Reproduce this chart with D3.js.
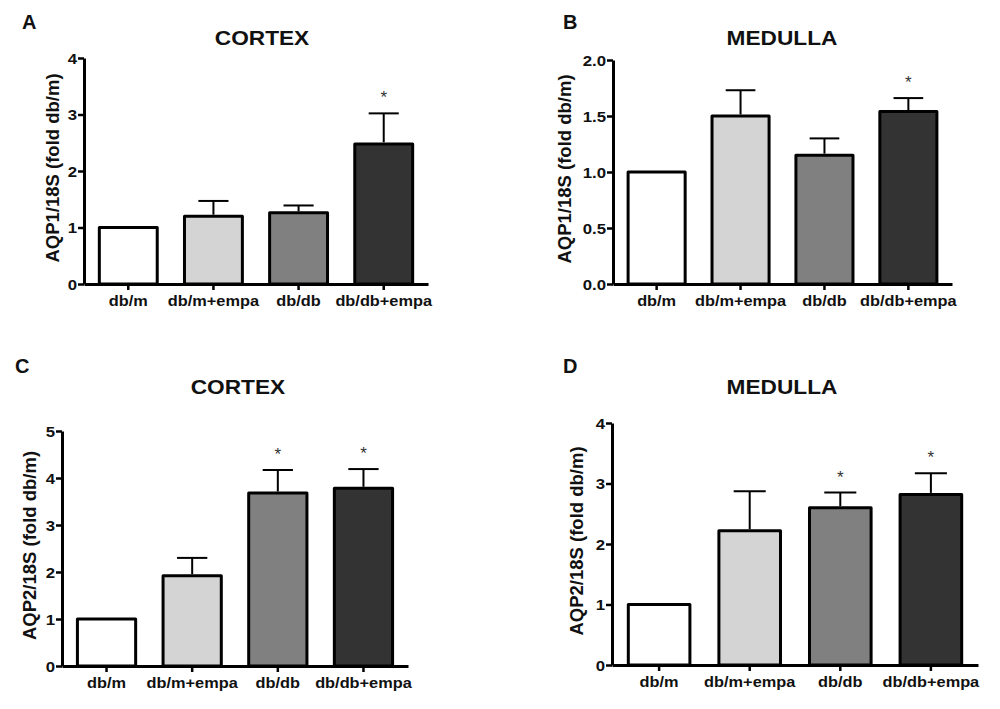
<!DOCTYPE html>
<html lang="en">
<head>
    <meta charset="UTF-8">
    <title>AQP1 / AQP2 expression</title>
    <script src="https://d3js.org/d3.v7.min.js"></script>
    <style>
        body {
            margin: 0;
            padding: 0;
            background-color: white;
        }
        svg text {
            font-family: 'Liberation Sans', Arial, sans-serif;
            fill: #111;
        }
    </style>
</head>
<body>
    <svg id="chart" width="1000" height="709"></svg>

    <script>
        // groups and values (mean, SEM, significance)
        const groups = ["db/m", "db/m+empa", "db/db", "db/db+empa"];
        const barFills = ["#ffffff", "#d4d4d4", "#808080", "#333333"];

        const aqp1CortexMean = [1.0, 1.2, 1.26, 2.48];
        const aqp1CortexSem  = [0, 0.27, 0.13, 0.54];
        const aqp1CortexSig  = [false, false, false, true];

        const aqp1MedullaMean = [1.0, 1.5, 1.15, 1.54];
        const aqp1MedullaSem  = [0, 0.23, 0.15, 0.12];
        const aqp1MedullaSig  = [false, false, false, true];

        const aqp2CortexMean = [1.0, 1.92, 3.68, 3.78];
        const aqp2CortexSem  = [0, 0.38, 0.49, 0.41];
        const aqp2CortexSig  = [false, false, true, true];

        const aqp2MedullaMean = [1.0, 2.22, 2.6, 2.82];
        const aqp2MedullaSem  = [0, 0.65, 0.25, 0.35];
        const aqp2MedullaSig  = [false, false, true, true];

        const ticksA = [0, 1, 2, 3, 4];
        const ticksB = [0, 0.5, 1.0, 1.5, 2.0];
        const ticksC = [0, 1, 2, 3, 4, 5];
        const ticksD = [0, 1, 2, 3, 4];

        const panels = [
            { letter: "A", title: "CORTEX", yLabel: "AQP1/18S (fold db/m)",
              mean: aqp1CortexMean, sem: aqp1CortexSem, sig: aqp1CortexSig,
              ticks: ticksA, fmt: d3.format("d"),
              left: 84, right: 428, top: 58, bottom: 284,
              letterX: 22, letterY: 29, titleX: 262, titleY: 45, yLabelX: 53 },
            { letter: "B", title: "MEDULLA", yLabel: "AQP1/18S (fold db/m)",
              mean: aqp1MedullaMean, sem: aqp1MedullaSem, sig: aqp1MedullaSig,
              ticks: ticksB, fmt: d3.format(".1f"),
              left: 613, right: 952, top: 60, bottom: 284,
              letterX: 563, letterY: 29, titleX: 782, titleY: 45, yLabelX: 565 },
            { letter: "C", title: "CORTEX", yLabel: "AQP2/18S (fold db/m)",
              mean: aqp2CortexMean, sem: aqp2CortexSem, sig: aqp2CortexSig,
              ticks: ticksC, fmt: d3.format("d"),
              left: 62, right: 408, top: 431, bottom: 666,
              letterX: 15, letterY: 373, titleX: 238, titleY: 394, yLabelX: 30 },
            { letter: "D", title: "MEDULLA", yLabel: "AQP2/18S (fold db/m)",
              mean: aqp2MedullaMean, sem: aqp2MedullaSem, sig: aqp2MedullaSig,
              ticks: ticksD, fmt: d3.format("d"),
              left: 612, right: 978, top: 423, bottom: 665,
              letterX: 563, letterY: 373, titleX: 782, titleY: 394, yLabelX: 577 }
        ];

        const svg = d3.select("#chart");

        // the original type is a little wide, stretch text horizontally around its anchor
        function widen(sel, sx) {
            sel.each(function() {
                const t = d3.select(this);
                const x = +t.attr("x") || 0;
                t.attr("transform", `translate(${x},0) scale(${sx},1) translate(${-x},0)`);
            });
        }

        function drawPanel(p) {
            const g = svg.append("g");
            const yMax = p.ticks[p.ticks.length - 1];

            const x = d3.scaleBand()
                .domain(groups)
                .range([p.left, p.right])
                .paddingInner(0.32)
                .paddingOuter(0.18);
            const y = d3.scaleLinear().domain([0, yMax]).range([p.bottom, p.top]);

            const rows = groups.map((name, i) => ({
                name: name, mean: p.mean[i], sem: p.sem[i], sig: p.sig[i], fill: barFills[i]
            }));

            // bars
            g.selectAll("rect.bar")
                .data(rows)
                .join("rect")
                .attr("class", "bar")
                .attr("x", d => x(d.name))
                .attr("width", x.bandwidth())
                .attr("y", d => y(d.mean))
                .attr("height", d => y(0) - y(d.mean))
                .attr("fill", d => d.fill)
                .attr("stroke", "#000")
                .attr("stroke-width", 3)
                .attr("stroke-linejoin", "round");

            // upper error bars
            const capHalf = x.bandwidth() * 0.26;
            const errRows = rows.filter(d => d.sem > 0);
            g.selectAll("line.err")
                .data(errRows)
                .join("line")
                .attr("class", "err")
                .attr("x1", d => x(d.name) + x.bandwidth() / 2)
                .attr("x2", d => x(d.name) + x.bandwidth() / 2)
                .attr("y1", d => y(d.mean) - 1.5)
                .attr("y2", d => y(d.mean + d.sem))
                .attr("stroke", "#000")
                .attr("stroke-width", 2);
            g.selectAll("line.cap")
                .data(errRows)
                .join("line")
                .attr("class", "cap")
                .attr("x1", d => x(d.name) + x.bandwidth() / 2 - capHalf)
                .attr("x2", d => x(d.name) + x.bandwidth() / 2 + capHalf)
                .attr("y1", d => y(d.mean + d.sem))
                .attr("y2", d => y(d.mean + d.sem))
                .attr("stroke", "#000")
                .attr("stroke-width", 2);

            // significance stars
            g.selectAll("text.star")
                .data(rows.filter(d => d.sig))
                .join("text")
                .attr("class", "star")
                .attr("x", d => x(d.name) + x.bandwidth() / 2)
                .attr("y", d => y(d.mean + d.sem) - 10)
                .attr("text-anchor", "middle")
                .style("font-size", "17px")
                .style("fill", "#333")
                .text("*");

            // y axis
            const yAxis = g.append("g")
                .attr("transform", `translate(${p.left},0)`)
                .call(d3.axisLeft(y).tickValues(p.ticks).tickFormat(p.fmt).tickSize(6).tickPadding(1).tickSizeOuter(0));
            yAxis.select(".domain").attr("stroke", "#000").attr("stroke-width", 3);
            yAxis.selectAll(".tick line").attr("stroke", "#000").attr("stroke-width", 2.5);
            yAxis.selectAll(".tick text")
                .attr("dy", "0.36em")
                .style("font-size", "14px")
                .style("font-weight", "bold")
                .style("fill", "#111")
                .call(widen, 1.2);

            // x axis
            const xAxis = g.append("g")
                .attr("transform", `translate(0,${p.bottom})`)
                .call(d3.axisBottom(x).tickSize(6).tickPadding(6).tickSizeOuter(0));
            xAxis.select(".domain").attr("stroke", "#000").attr("stroke-width", 3);
            xAxis.selectAll(".tick line").attr("stroke", "#000").attr("stroke-width", 2.5);
            xAxis.selectAll(".tick text")
                .attr("y", 0)
                .attr("dy", 22)
                .style("font-size", "15px")
                .style("font-weight", "bold")
                .style("fill", "#111")
                .call(widen, 1.09);

            // y label
            g.append("text")
                .attr("transform", `translate(${p.yLabelX},${(p.top + p.bottom) / 2 - 3}) rotate(-90)`)
                .attr("text-anchor", "middle")
                .attr("dy", "0.35em")
                .style("font-size", "18.5px")
                .style("font-weight", "bold")
                .text(p.yLabel);

            // panel title and letter
            g.append("text")
                .attr("x", p.titleX)
                .attr("y", p.titleY)
                .attr("text-anchor", "middle")
                .style("font-size", "21px")
                .style("font-weight", "bold")
                .text(p.title)
                .call(widen, 1.08);

            g.append("text")
                .attr("x", p.letterX)
                .attr("y", p.letterY)
                .style("font-size", "20px")
                .style("font-weight", "bold")
                .text(p.letter);
        }

        panels.forEach(drawPanel);
    </script>
</body>
</html>
